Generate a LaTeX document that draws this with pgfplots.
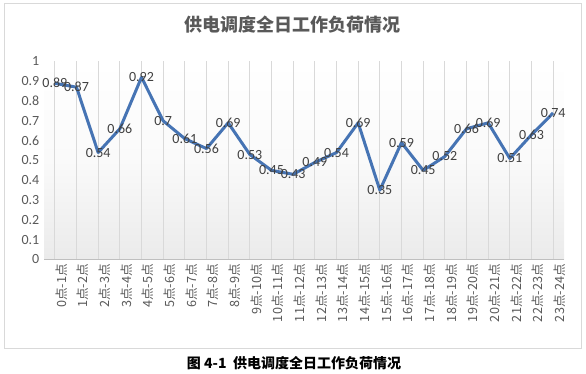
\documentclass[border=0pt]{standalone}
\usepackage{pgfplots}
\pgfplotsset{compat=1.18}
\usepackage{pgfplotstable}
\usepackage{fontspec}
\setmainfont{Carlito}
\newfontfamily\cjk{Noto Sans CJK SC}
\definecolor{linec}{RGB}{70,116,180}
\definecolor{txtg}{RGB}{89,89,89}
\definecolor{lblg}{RGB}{64,64,64}
\definecolor{gridg}{RGB}{217,217,217}
\definecolor{frameg}{RGB}{217,217,217}
\pgfplotstableread{
x y
0 0.89
1 0.87
2 0.54
3 0.66
4 0.92
5 0.70
6 0.61
7 0.56
8 0.69
9 0.53
10 0.45
11 0.43
12 0.49
13 0.54
14 0.69
15 0.35
16 0.59
17 0.45
18 0.52
19 0.66
20 0.69
21 0.51
22 0.63
23 0.74
}\load
\begin{document}
\begin{tikzpicture}
\path[use as bounding box] (0,0) rectangle (439.5pt,280.5pt);
\draw[frameg, line width=0.75pt] (3pt,18.75pt) rectangle (435.75pt,277.5pt);
\node[font=\cjk\bfseries\fontsize{13.5pt}{15pt}\selectfont, text=txtg] at (219pt,261.75pt) {供电调度全日工作负荷情况};
\node[font=\cjk\bfseries\fontsize{10.5pt}{12pt}\selectfont, text=black] at (220.5pt,8.25pt) {图 4-1\ \ 供电调度全日工作负荷情况};
\begin{axis}[
  at={(33pt,85.9pt)}, anchor=south west,
  scale only axis, width=390pt, height=148.5pt,
  xmin=-0.5, xmax=23.5, ymin=0, ymax=1,
  axis x line*=bottom, axis y line*=left,
  y axis line style={draw=none},
  x axis line style={draw=black!25, line width=0.75pt},
  tick style={draw=none},
  axis background/.style={top color=white, bottom color=black!8, middle color=black!2},
  xmajorgrids, major grid style={draw=gridg, line width=0.75pt},
  xtick={0,...,23},
  xticklabels={0点-1点,1点-2点,2点-3点,3点-4点,4点-5点,5点-6点,6点-7点,7点-8点,8点-9点,9点-10点,10点-11点,11点-12点,12点-13点,13点-14点,14点-15点,15点-16点,16点-17点,17点-18点,18点-19点,19点-20点,20点-21点,21点-22点,22点-23点,23点-24点},
  xticklabel style={rotate=90, anchor=east, font=\cjk\fontsize{9.5pt}{10pt}\selectfont, text=txtg, yshift=-5pt},
  ytick={0,0.1,...,1.01},
  yticklabels={0,0.1,0.2,0.3,0.4,0.5,0.6,0.7,0.8,0.9,1},
  yticklabel style={font=\fontsize{10.5pt}{12pt}\selectfont, text=txtg},
  /pgf/number format/assume math mode=true,
  clip=false,
]
\addplot[color=linec, line width=2.25pt, line join=round, mark=none,
  nodes near coords,
  every node near coord/.append style={anchor=center, font=\fontsize{10.5pt}{12pt}\selectfont, text=lblg}]
  table[x=x,y=y] {\load};
\end{axis}
\end{tikzpicture}
\end{document}
